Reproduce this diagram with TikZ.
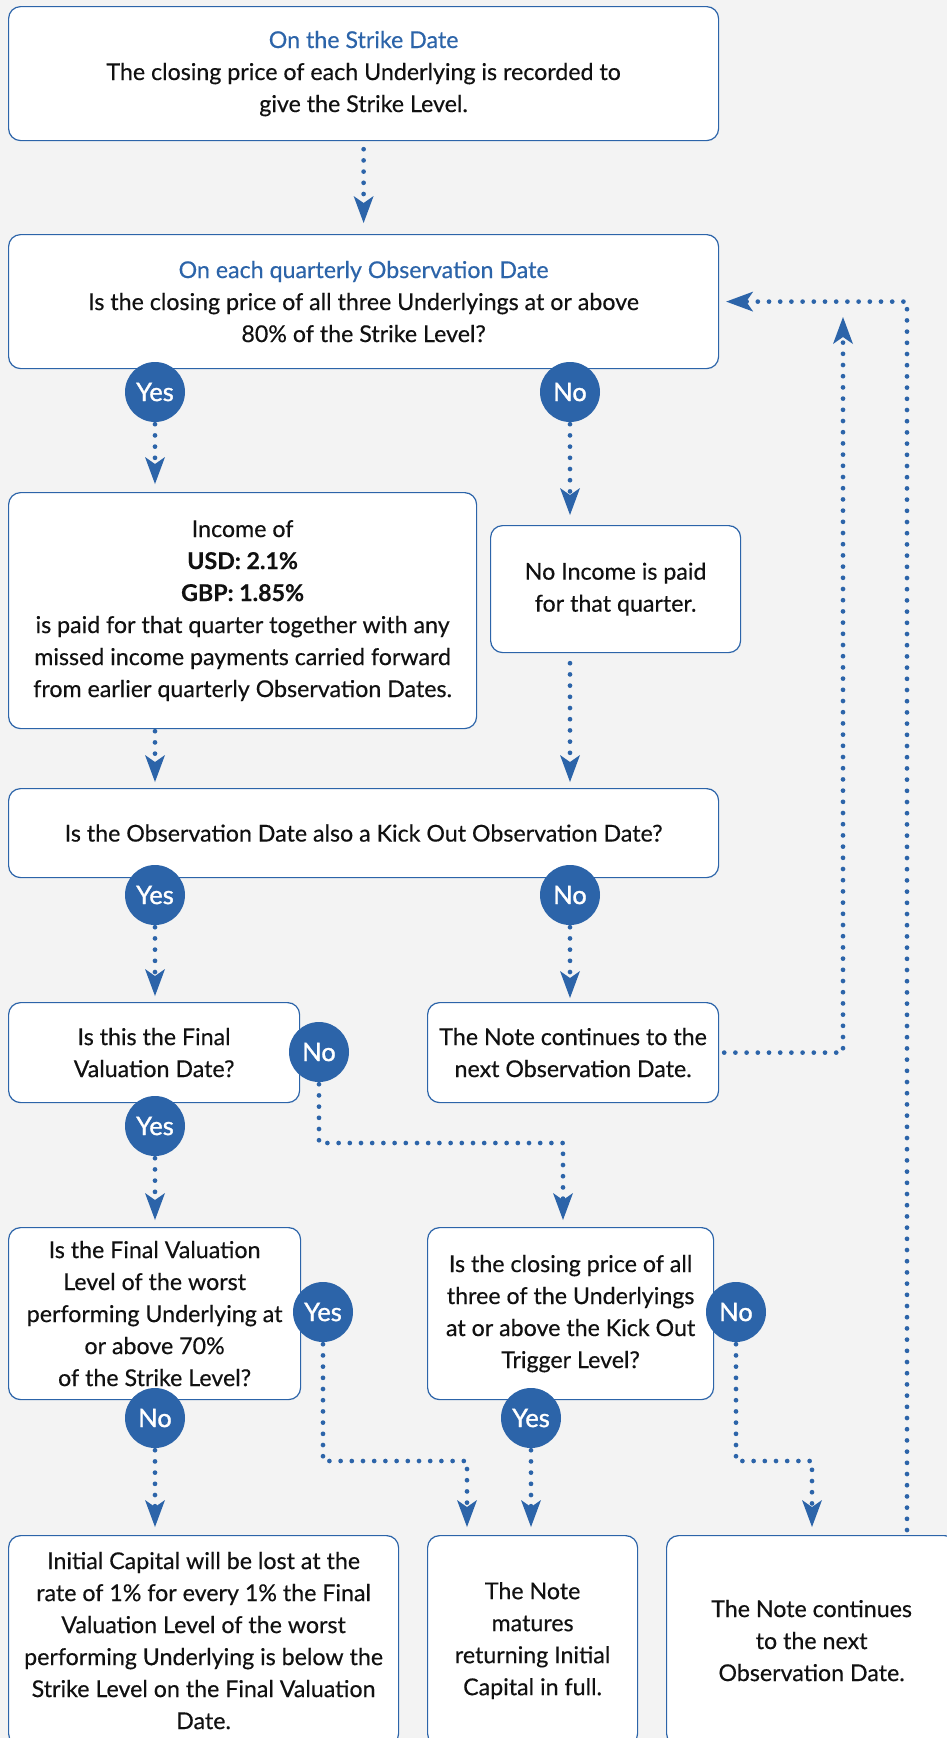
\documentclass[tikz,border=0pt]{standalone}
\usepackage{fontspec}
\setmainfont{Lato}[FakeBold=0.4]
\newfontfamily\ynfont{Lato}[FakeBold=1.2]
\usetikzlibrary{arrows.meta,calc}
\definecolor{bblue}{HTML}{2C64A9}
\definecolor{bgray}{HTML}{F3F3F3}
\definecolor{txt}{HTML}{111111}
\begin{document}
\begin{tikzpicture}[x=1pt,y=-1pt,
  box/.style={draw=bblue, fill=white, line width=1.2pt, rounded corners=12pt, anchor=north west, align=center, inner sep=0pt, text=txt, font=\fontsize{23.2}{32}\selectfont},
  yn/.style={circle, fill=bblue, minimum size=60pt, inner sep=0pt, text=white, font=\ynfont\fontsize{25.5}{25.5}\selectfont},
  dotline/.style={draw=bblue, line width=4.7pt, line cap=round, dash pattern=on 0pt off 11.2pt},
  arr/.style={dotline, -{Stealth[length=27pt,width=20pt,inset=7pt,line width=0pt]}},
  hd/.style={text=bblue}
]
\fill[bgray] (0,0) rectangle (947,1738);
\clip (0,0) rectangle (947,1738);
% boxes
\node[box, minimum width=710pt, minimum height=134pt] (strike) at (8,6)
  {{\color{bblue}On the Strike Date}\\The closing price of each Underlying is recorded to\\give the Strike Level.};
\node[box, minimum width=710pt, minimum height=134pt] (obs) at (8,234)
  {{\color{bblue}On each quarterly Observation Date}\\Is the closing price of all three Underlyings at or above\\80\% of the Strike Level?};
\node[box, minimum width=468pt, minimum height=236pt] (inc) at (8,492)
  {Income of\\\textbf{USD: 2.1\%}\\\textbf{GBP: 1.85\%}\\is paid for that quarter together with any\\missed income payments carried forward\\from earlier quarterly Observation Dates.};
\node[box, minimum width=250pt, minimum height=127pt] (noinc) at (490,525)
  {No Income is paid\\for that quarter.};
\node[box, minimum width=710pt, minimum height=89pt] (ko) at (8,788)
  {Is the Observation Date also a Kick Out Observation Date?};
\node[box, minimum width=291pt, minimum height=100pt] (fvd) at (8,1002)
  {Is this the Final\\Valuation Date?};
\node[box, minimum width=291pt, minimum height=100pt] (cont1) at (427,1002)
  {The Note continues to the\\next Observation Date.};
\node[box, minimum width=292pt, minimum height=172pt] (fvl) at (8,1227)
  {Is the Final Valuation\\Level of the worst\\performing Underlying at\\or above 70\%\\of the Strike Level?};
\node[box, minimum width=286pt, minimum height=172pt] (kot) at (427,1227)
  {Is the closing price of all\\three of the Underlyings\\at or above the Kick Out\\Trigger Level?};
\node[box, minimum width=390pt, minimum height=210pt] (loss) at (8,1535)
  {Initial Capital will be lost at the\\rate of 1\% for every 1\% the Final\\Valuation Level of the worst\\performing Underlying is below the\\Strike Level on the Final Valuation\\Date.};
\node[box, minimum width=210pt, minimum height=210pt] (mat) at (427,1535)
  {The Note\\matures\\returning Initial\\Capital in full.};
\node[box, minimum width=290pt, minimum height=210pt] (cont2) at (666,1535)
  {The Note continues\\to the next\\Observation Date.};
% yes/no circles
\node[yn] (y1) at (155,392) {Yes};
\node[yn] (n1) at (570,392) {No};
\node[yn] (y2) at (155,895) {Yes};
\node[yn] (n2) at (570,895) {No};
\node[yn] (n3) at (319,1052) {No};
\node[yn] (y3) at (155,1126) {Yes};
\node[yn] (y4) at (323,1312) {Yes};
\node[yn] (n4) at (155,1418) {No};
\node[yn] (n5) at (736,1312) {No};
\node[yn] (y5) at (531,1418) {Yes};
% helper coordinates
\coordinate (up) at (843,317);
\coordinate (loopx) at (907,302);
\coordinate (c3) at (563,1143);
\coordinate (c4) at (467,1461);
\coordinate (c5) at (812,1461);
% connectors
\draw[arr, shorten <=8pt, shorten >=11pt] (strike.south) -- (obs.north);
\draw[arr, shorten <=2pt, shorten >=8pt] (y1.south) -- (y1 |- inc.north);
\draw[arr, shorten <=2pt, shorten >=10pt] (n1.south) -- (n1 |- noinc.north);
\draw[arr, shorten <=2pt, shorten >=6pt] (y1 |- inc.south) -- (y1 |- ko.north);
\draw[arr, shorten <=10pt, shorten >=6pt] (n1 |- noinc.south) -- (n1 |- ko.north);
\draw[arr, shorten <=2pt, shorten >=6pt] (y2.south) -- (y2 |- fvd.north);
\draw[arr, shorten <=2pt, shorten >=4pt] (n2.south) -- (n2 |- cont1.north);
\draw[arr, shorten <=5pt] (cont1.east) -| (up);
\draw[arr, shorten <=5pt, shorten >=7pt] (loopx |- cont2.north) |- (obs.east);
\draw[arr, shorten <=2pt, shorten >=7pt] (y3.south) -- (y3 |- fvl.north);
\draw[arr, shorten <=2pt, shorten >=7pt] (n3.south) |- (c3) -- (c3 |- kot.north);
\draw[arr, shorten <=2pt, shorten >=8pt] (n4.south) -- (n4 |- loss.north);
\draw[arr, shorten <=2pt, shorten >=8pt] (y4.south) |- (c4) -- (c4 |- mat.north);
\draw[arr, shorten <=2pt, shorten >=8pt] (y5.south) -- (y5 |- mat.north);
\draw[arr, shorten <=2pt, shorten >=8pt] (n5.south) |- (c5) -- (c5 |- cont2.north);
\end{tikzpicture}
\end{document}
